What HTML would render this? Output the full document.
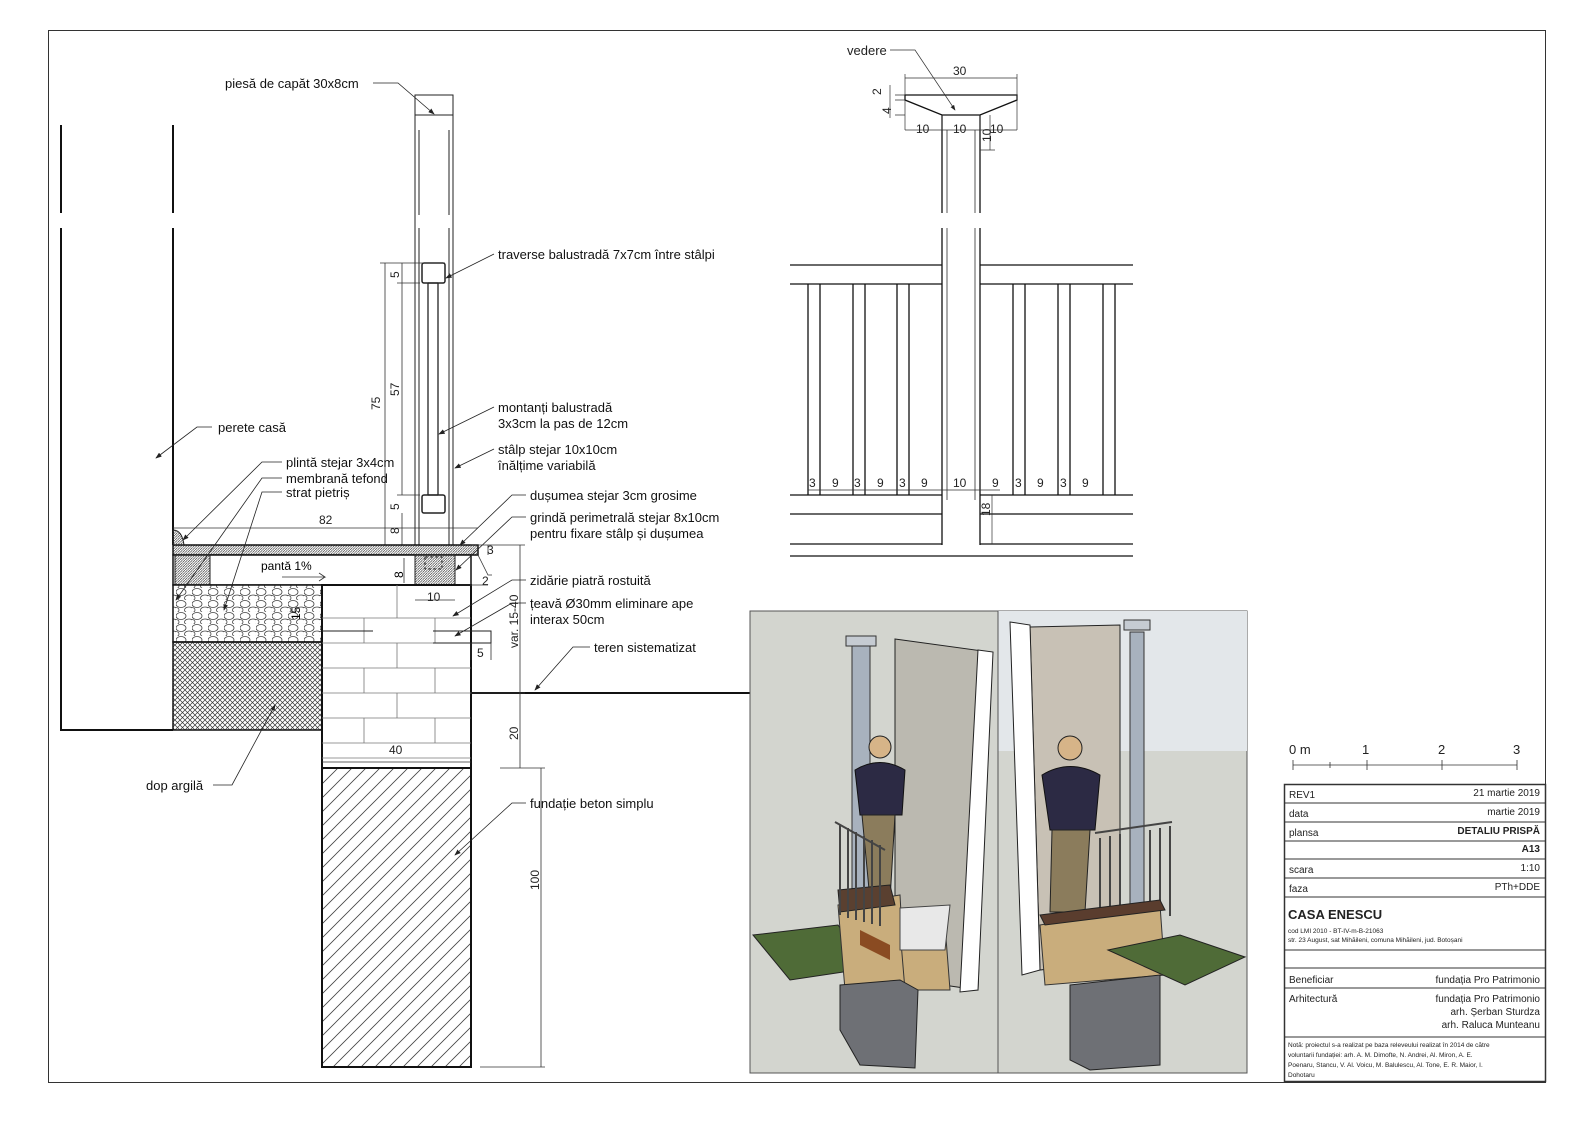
<!DOCTYPE html>
<html><head><meta charset="utf-8"><style>
html,body{margin:0;padding:0;background:#fff;}
svg{display:block;font-family:"Liberation Sans",sans-serif;}
</style></head><body>
<svg width="1588" height="1123" viewBox="0 0 1588 1123" xmlns="http://www.w3.org/2000/svg">
<defs>
<pattern id="h45" width="6" height="6" patternUnits="userSpaceOnUse"><path d="M0 6L6 0M-1 1L1 -1M5 7L7 5" stroke="#555" stroke-width="0.8"/></pattern>
<pattern id="hf" width="2.5" height="2.5" patternUnits="userSpaceOnUse"><path d="M0 2.5L2.5 0" stroke="#444" stroke-width="0.7"/></pattern>
<pattern id="diag" width="14" height="14" patternUnits="userSpaceOnUse"><path d="M0 14L14 0M-2 2L2 -2M12 16L16 12" stroke="#444" stroke-width="0.8"/></pattern>
<pattern id="cross" width="5" height="5" patternUnits="userSpaceOnUse"><path d="M0 5L5 0M0 0L5 5" stroke="#333" stroke-width="0.7"/></pattern>
<pattern id="grav" width="16" height="12" patternUnits="userSpaceOnUse"><rect width="16" height="12" fill="#fff"/><ellipse cx="5" cy="4" rx="5" ry="3.5" fill="none" stroke="#444" stroke-width="0.8"/><ellipse cx="13" cy="10" rx="4.5" ry="3" fill="none" stroke="#444" stroke-width="0.8"/><ellipse cx="0" cy="10" rx="3" ry="2.5" fill="none" stroke="#444" stroke-width="0.8"/></pattern>
<marker id="ar" markerWidth="8" markerHeight="6" refX="7" refY="3" orient="auto"><path d="M0 0L8 3L0 6z" fill="#222"/></marker>
</defs>
<rect x="48.5" y="30.5" width="1497" height="1052" fill="none" stroke="#333" stroke-width="1"/>

<!-- house wall -->
<g stroke="#111" stroke-width="2" fill="none">
<path d="M61 125V213M61 228V730H173M173 125V213M173 228V545"/>
</g>
<!-- post section -->
<g stroke="#222" fill="none" stroke-width="1">
<rect x="415" y="95" width="38" height="20"/>
<path d="M415 115V545M453 115V545M419 130V215M449 130V215M419 228V545M449 228V545"/>
<path d="M428 283V495M438 283V495M428 283H438M428 495H438" stroke-width="1.3"/>
<rect x="422" y="263" width="23" height="20" rx="2" stroke-width="1.5"/>
<rect x="422" y="495" width="23" height="18" rx="2" stroke-width="1.5"/>
</g>
<!-- dims post -->
<g stroke="#333" stroke-width="0.8" fill="none">
<path d="M385 263V545M402 283V495M380 263H445M380 545H415M397 283H420M397 495H420M402 513V545M402 263V283"/>
</g>
<g font-size="12" fill="#222">
<text transform="translate(380 410) rotate(-90)">75</text>
<text transform="translate(399 396) rotate(-90)">57</text>
<text transform="translate(399 278) rotate(-90)">5</text>
<text transform="translate(399 510) rotate(-90)">5</text>
<text transform="translate(399 534) rotate(-90)">8</text>
</g>
<!-- floor -->
<rect x="173" y="545" width="305" height="10" fill="url(#hf)" stroke="#111" stroke-width="1.5"/>
<path d="M173 545V530Q182 530 184 545" fill="url(#hf)" stroke="#222"/>
<rect x="173" y="555" width="298" height="30" fill="#fff" stroke="#111" stroke-width="1.5"/>
<rect x="175" y="555" width="35" height="30" fill="url(#hf)" stroke="#222"/>
<rect x="415" y="555" width="40" height="30" fill="url(#hf)" stroke="#222"/>
<rect x="425" y="557" width="17" height="12" fill="none" stroke="#222" stroke-dasharray="3,2"/>
<path d="M404 558V583" stroke="#333" stroke-width="0.8"/>
<text transform="translate(403 578) rotate(-90)" font-size="12">8</text>
<text x="261" y="570" font-size="12">pantă 1%</text>
<path d="M282 577H325l-6-4M325 577l-6 4" stroke="#333" fill="none" stroke-width="0.8"/>
<!-- gravel, clay -->
<rect x="173" y="585" width="149" height="57" fill="url(#grav)" stroke="#111" stroke-width="1.5"/>
<text transform="translate(300 620) rotate(-90)" font-size="12">15</text>
<rect x="173" y="642" width="149" height="88" fill="url(#cross)" stroke="#111" stroke-width="1.5"/>
<!-- masonry -->
<rect x="322" y="585" width="149" height="183" fill="#fff" stroke="#111" stroke-width="2"/>
<g stroke="#777" stroke-width="0.8">
<path d="M322 618H471M322 643H471M322 668H471M322 693H471M322 718H471M322 743H471M322 758H471"/>
<path d="M397 585V618M364 618V643M435 618V643M397 643V668M364 668V693M435 668V693M397 693V718M364 718V743M435 718V743"/>
</g>
<path d="M322 631H373M433 631H491V643H433" stroke="#222" fill="none"/>
<rect x="322" y="768" width="149" height="299" fill="url(#diag)" stroke="#111" stroke-width="2"/>
<!-- ground -->
<path d="M471 693H750" stroke="#111" stroke-width="2"/>
<!-- dims right of masonry -->
<g stroke="#333" stroke-width="0.8" fill="none">
<path d="M520 545V768M541 768V1067M500 768H545M480 1067H545M471 545H525M471 693H525M488 545V555M460 585H488"/>
<path d="M478 555L488 575H492M471 643V660M491 643V660M415 600H455"/>
<path d="M322 762H471M173 528H478"/>
</g>
<g font-size="12" fill="#222">
<text x="319" y="524">82</text>
<text x="487" y="554">3</text>
<text x="482" y="585">2</text>
<text x="427" y="601">10</text>
<text x="477" y="657">5</text>
<text transform="translate(518 648) rotate(-90)">var. 15-40</text>
<text transform="translate(518 740) rotate(-90)">20</text>
<text transform="translate(539 890) rotate(-90)">100</text>
<text x="389" y="754">40</text>
</g>
<!-- labels with leaders -->
<g font-size="13" fill="#111">
<text x="225" y="88">piesă de capăt 30x8cm</text>
<text x="498" y="259">traverse balustradă 7x7cm între stâlpi</text>
<text x="498" y="412">montanți balustradă</text>
<text x="498" y="428">3x3cm la pas de 12cm</text>
<text x="498" y="454">stâlp stejar 10x10cm</text>
<text x="498" y="470">înălțime variabilă</text>
<text x="218" y="432">perete casă</text>
<text x="286" y="467">plintă stejar 3x4cm</text>
<text x="286" y="483">membrană tefond</text>
<text x="286" y="497">strat pietriș</text>
<text x="530" y="500">dușumea stejar 3cm grosime</text>
<text x="530" y="522">grindă perimetrală stejar 8x10cm</text>
<text x="530" y="538">pentru fixare stâlp și dușumea</text>
<text x="530" y="585">zidărie piatră rostuită</text>
<text x="530" y="608">țeavă Ø30mm eliminare ape</text>
<text x="530" y="624">interax 50cm</text>
<text x="594" y="652">teren sistematizat</text>
<text x="146" y="790">dop argilă</text>
<text x="530" y="808">fundație beton simplu</text>
</g>
<g stroke="#222" stroke-width="0.8" fill="none" marker-end="url(#ar)">
<path d="M373 83H398L434 114"/>
<path d="M494 254L446 278"/>
<path d="M494 407L439 434"/>
<path d="M494 449L455 468"/>
<path d="M212 427H197L156 458"/>
<path d="M282 462H262L183 540"/>
<path d="M282 478H262L176 600"/>
<path d="M282 492H262L224 610"/>
<path d="M526 495H512L460 545"/>
<path d="M526 517H512L456 570"/>
<path d="M526 580H512L453 616"/>
<path d="M526 603H512L455 636"/>
<path d="M590 647H573L535 690"/>
<path d="M213 785H232L275 705"/>
<path d="M526 803H512L455 855"/>
</g>

<!-- elevation -->
<g stroke="#111" fill="none" stroke-width="1.3">
<path d="M905 95H1017V100L980 115H942L905 100Z"/>
<path d="M942 115V213M980 115V213M942 228V545M980 228V545"/>
<path d="M947 130V213M947 228V500M975 130V213M975 228V500" stroke-width="0.7"/>
<path d="M790 265H942M980 265H1133M790 284H942M980 284H1133"/>
<path d="M790 495H942M980 495H1133M790 514H942M980 514H1133M790 544H942M980 544H1133M790 556H1133"/>
<path d="M808 284V495M820 284V495M853 284V495M865 284V495M897 284V495M909 284V495M1013 284V495M1025 284V495M1058 284V495M1070 284V495M1103 284V495M1115 284V495"/>
</g>
<g stroke="#333" stroke-width="0.7" fill="none">
<path d="M905 78H1017M905 74V95M1017 74V130M905 130H1017M905 100V130M942 115V130M980 115V130M895 95H905M895 100H905M895 115H905M890 85V118M990 115V150M980 150H995M808 490H1000M992 495V544"/>
<path d="M890 50H915L955 110" marker-end="url(#ar)"/>
</g>
<g font-size="12" fill="#222">
<text x="847" y="55" font-size="13">vedere</text>
<text x="953" y="75">30</text>
<text x="916" y="133">10</text>
<text x="953" y="133">10</text>
<text x="990" y="133">10</text>
<text transform="translate(881 95) rotate(-90)">2</text>
<text transform="translate(891 114) rotate(-90)">4</text>
<text transform="translate(991 142) rotate(-90)">10</text>
<text transform="translate(990 516) rotate(-90)">18</text>
<text x="809" y="487">3</text><text x="832" y="487">9</text><text x="854" y="487">3</text><text x="877" y="487">9</text><text x="899" y="487">3</text><text x="921" y="487">9</text><text x="953" y="487">10</text><text x="992" y="487">9</text><text x="1015" y="487">3</text><text x="1037" y="487">9</text><text x="1060" y="487">3</text><text x="1082" y="487">9</text>
</g>

<!-- renders -->
<rect x="750" y="611" width="497" height="462" fill="#d3d5cf" stroke="#555"/>
<rect x="998" y="611" width="249" height="140" fill="#e3e7ea"/>
<path d="M998 611V1073" stroke="#555"/>
<!-- left render -->
<polygon points="895,639 990,652 978,990 895,978" fill="#bbb9b0" stroke="#222"/>
<polygon points="978,650 993,652 978,990 960,992" fill="#fff" stroke="#222"/>
<rect x="852" y="646" width="18" height="290" fill="#a8b2be" stroke="#333"/>
<rect x="846" y="636" width="30" height="10" fill="#c5cbd2" stroke="#333"/>
<circle cx="880" cy="747" r="11" fill="#d6b488" stroke="#222"/>
<path d="M855 770Q880 755 905 770L902 815H860Z" fill="#2c2a44" stroke="#111"/>
<path d="M862 815H895L890 900H870Z" fill="#8b7c5c" stroke="#222"/>
<polygon points="753,935 838,925 870,968 790,980" fill="#4f6b37" stroke="#222"/>
<polygon points="838,905 900,895 905,985 845,990" fill="#c9ad7c" stroke="#333"/>
<polygon points="900,930 945,925 950,990 905,990" fill="#c9ad7c" stroke="#333"/>
<polygon points="900,908 950,905 945,950 900,950" fill="#e8e8e8" stroke="#444"/>
<polygon points="838,890 890,885 895,905 840,912" fill="#5a4030" stroke="#222"/>
<polygon points="840,985 900,980 918,990 915,1068 860,1065 840,1030" fill="#6e7075" stroke="#222"/>
<g stroke="#444" stroke-width="2"><path d="M835 822L885 850M840 825V915M848 828V918M856 832V920M864 836V922M872 840V924M880 845V926"/></g>
<path d="M860 930L890 945V960L860 945Z" fill="#8a4b22"/>
<!-- right render -->
<polygon points="1030,627 1120,625 1120,960 1040,970" fill="#c8c1b5" stroke="#222"/>
<polygon points="1010,622 1030,625 1040,970 1022,975" fill="#fff" stroke="#222"/>
<rect x="1130" y="632" width="14" height="300" fill="#a8b2be" stroke="#333"/>
<rect x="1124" y="620" width="26" height="10" fill="#c5cbd2" stroke="#333"/>
<circle cx="1070" cy="748" r="12" fill="#d6b488" stroke="#222"/>
<path d="M1042 775Q1070 758 1100 775L1095 830H1050Z" fill="#2c2a44" stroke="#111"/>
<path d="M1052 830H1090L1085 912H1060L1050 912Z" fill="#8b7c5c" stroke="#222"/>
<g stroke="#444" stroke-width="2"><path d="M1095 833L1172 822M1100 838V930M1110 836V928M1120 834V926M1150 830V920M1160 828V918M1170 826V916"/></g>
<polygon points="1040,925 1160,905 1165,975 1045,985" fill="#c9ad7c" stroke="#333"/>
<polygon points="1040,915 1160,900 1165,910 1045,925" fill="#5a3d2e" stroke="#222"/>
<polygon points="1108,950 1180,935 1245,957 1185,985" fill="#4f6b37" stroke="#222"/>
<polygon points="1070,985 1160,975 1160,1065 1090,1070 1070,1060" fill="#6e7075" stroke="#222"/>

<!-- scale bar -->
<g font-size="13" fill="#222">
<text x="1289" y="754">0 m</text><text x="1362" y="754">1</text><text x="1438" y="754">2</text><text x="1513" y="754">3</text>
</g>
<path d="M1293 765H1517M1293 760V770M1330 762V768M1367 760V770M1442 760V770M1517 760V770" stroke="#333" stroke-width="0.8" fill="none"/>
<!-- title block -->
<g stroke="#333" fill="none">
<rect x="1284.5" y="784.5" width="261" height="297" stroke-width="1.5"/>
<path d="M1284 803H1546M1284 822H1546M1284 841H1546M1284 859H1546M1284 878H1546M1284 897H1546M1284 950H1546M1284 968H1546M1284 988H1546M1284 1037H1546"/>
</g>
<g font-size="10" fill="#222">
<text x="1289" y="798">REV1</text><text x="1540" y="796" text-anchor="end">21 martie 2019</text>
<text x="1289" y="817">data</text><text x="1540" y="815" text-anchor="end">martie 2019</text>
<text x="1289" y="836">plansa</text><text x="1540" y="834" text-anchor="end" font-weight="bold">DETALIU PRISPĂ</text>
<text x="1540" y="852" text-anchor="end" font-weight="bold">A13</text>
<text x="1289" y="873">scara</text><text x="1540" y="871" text-anchor="end">1:10</text>
<text x="1289" y="892">faza</text><text x="1540" y="890" text-anchor="end">PTh+DDE</text>
<text x="1288" y="919" font-size="13" font-weight="bold">CASA ENESCU</text>
<text x="1288" y="933" font-size="6.5">cod LMI 2010 - BT-IV-m-B-21063</text>
<text x="1288" y="942" font-size="6.5">str. 23 August, sat Mihăileni, comuna Mihăileni, jud. Botoșani</text>
<text x="1289" y="983">Beneficiar</text><text x="1540" y="983" text-anchor="end">fundația Pro Patrimonio</text>
<text x="1289" y="1002">Arhitectură</text><text x="1540" y="1002" text-anchor="end">fundația Pro Patrimonio</text>
<text x="1540" y="1015" text-anchor="end">arh. Șerban Sturdza</text>
<text x="1540" y="1028" text-anchor="end">arh. Raluca Munteanu</text>
<text x="1288" y="1047" font-size="6.5">Notă: proiectul s-a realizat pe baza releveului realizat în 2014 de către</text>
<text x="1288" y="1057" font-size="6.5">voluntarii fundației: arh. A. M. Dimofte, N. Andrei, Al. Miron, A. E.</text>
<text x="1288" y="1067" font-size="6.5">Poenaru, Stancu, V. Al. Voicu, M. Balulescu, Al. Tone, E. R. Maior, I.</text>
<text x="1288" y="1077" font-size="6.5">Dohotaru</text>
</g>
</svg>
</body></html>
